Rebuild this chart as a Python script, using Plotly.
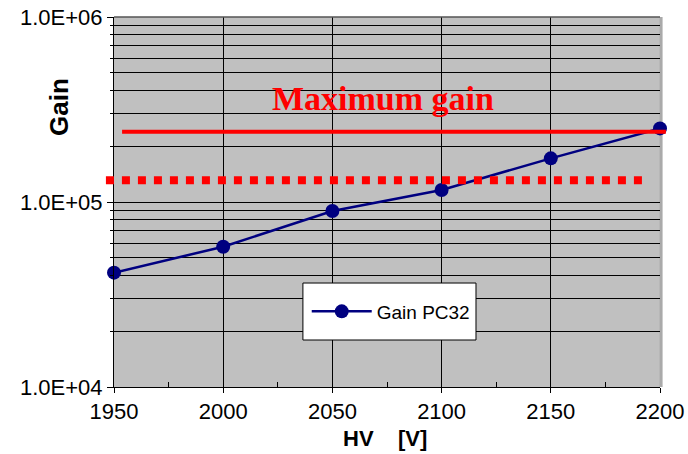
import plotly.graph_objects as go

# Measured gain of PC32 versus applied high voltage
hv = [1950, 2000, 2050, 2100, 2150, 2200]
gain = [41500, 57300, 89400, 116100, 172200, 250000]

# Reference levels drawn as horizontal lines
max_gain = 240000
max_gain_x = [1953.7, 2202.7]
dotted_level = 131000
dotted_x = [1946.3, 2194.5]

x_range = [1950, 2200]
x_ticks = [1950, 2000, 2050, 2100, 2150, 2200]
y_ticks = [1e4, 1e5, 1e6]
y_ticktext = ["1.0E+04", "1.0E+05", "1.0E+06"]
y_minor = [m * 10 ** e for e in (4, 5) for m in range(2, 10)]

FONT = "Liberation Sans, Arial, sans-serif"


def xp(v):
    """Convert an HV value to a paper fraction along the x axis."""
    return (v - x_range[0]) / (x_range[1] - x_range[0])


fig = go.Figure()
fig.add_trace(go.Scatter(
    x=hv, y=gain, mode="lines+markers", name="Gain PC32",
    line=dict(color="#000080", width=2.5),
    marker=dict(color="#000080", size=14),
    cliponaxis=False,
))

shapes = [
    # plot-area frame: dark top edge, light right edge
    dict(type="line", xref="paper", yref="paper", x0=0, x1=1, y0=1, y1=1,
         line=dict(color="#555555", width=1.5)),
    dict(type="line", xref="paper", yref="paper", x0=1.002, x1=1.002, y0=0, y1=1,
         line=dict(color="#aaaaaa", width=3), layer="below"),
    # maximum gain line
    dict(type="line", xref="paper", yref="y",
         x0=xp(max_gain_x[0]), x1=xp(max_gain_x[1]), y0=max_gain, y1=max_gain,
         line=dict(color="#ff0000", width=4)),
    # dotted reference level
    dict(type="line", xref="paper", yref="y",
         x0=xp(dotted_x[0]), x1=xp(dotted_x[1]), y0=dotted_level, y1=dotted_level,
         line=dict(color="#ff0000", width=8, dash="dot")),
    # legend box
    dict(type="rect", xref="paper", yref="paper",
         x0=0.346, x1=0.663, y0=0.127, y1=0.281,
         fillcolor="white", line=dict(color="black", width=1), layer="above"),
]

annotations = [
    dict(text="<b>Maximum gain</b>", xref="paper", yref="paper", x=0.493, y=0.781,
         xanchor="center", yanchor="middle", showarrow=False,
         font=dict(family="Liberation Serif, Times New Roman, serif",
                   size=34, color="#ff0000")),
    dict(text="<b>Gain</b>", xref="paper", yref="paper", x=-0.1007, y=0.757,
         xanchor="center", yanchor="middle",
         textangle=-90, showarrow=False, font=dict(family=FONT, size=26, color="black")),
    dict(text="<b>HV\u00a0\u00a0\u00a0\u00a0[V]</b>", xref="paper", yref="paper",
         x=(385 - 114) / 546, y=-0.138, xanchor="center", yanchor="middle",
         showarrow=False, font=dict(family=FONT, size=22, color="black")),
]

fig.update_layout(
    width=688, height=454,
    margin=dict(l=114, r=28, t=17, b=67, autoexpand=False),
    paper_bgcolor="white",
    plot_bgcolor="#C0C0C0",
    font=dict(family=FONT, size=22, color="black"),
    showlegend=True,
    legend=dict(x=0.353, y=0.204, xanchor="left", yanchor="middle",
                bgcolor="rgba(0,0,0,0)", borderwidth=0, itemwidth=60,
                font=dict(family=FONT, size=19, color="black")),
    shapes=shapes,
    annotations=annotations,
)

fig.update_xaxes(
    range=x_range, tickvals=x_ticks, ticks="outside", ticklen=5, tickcolor="black",
    showline=True, linecolor="black", linewidth=1, automargin=False,
    showgrid=True, gridcolor="black", gridwidth=1, zeroline=False,
    tickfont=dict(family=FONT, size=22),
    minor=dict(tickvals=[1975, 2025, 2075, 2125, 2175], ticks="inside",
               ticklen=5, tickcolor="black", showgrid=False),
)

fig.update_yaxes(
    type="log", range=[4, 6], tickvals=y_ticks, ticktext=y_ticktext,
    ticks="outside", ticklen=6, tickcolor="black", automargin=False,
    showline=True, linecolor="black", linewidth=1,
    showgrid=True, gridcolor="black", gridwidth=1, zeroline=False,
    tickfont=dict(family=FONT, size=22),
    minor=dict(tickvals=y_minor, ticks="outside", ticklen=3, tickcolor="black",
               showgrid=True, gridcolor="black", gridwidth=1),
)

fig.write_html("out.html")
